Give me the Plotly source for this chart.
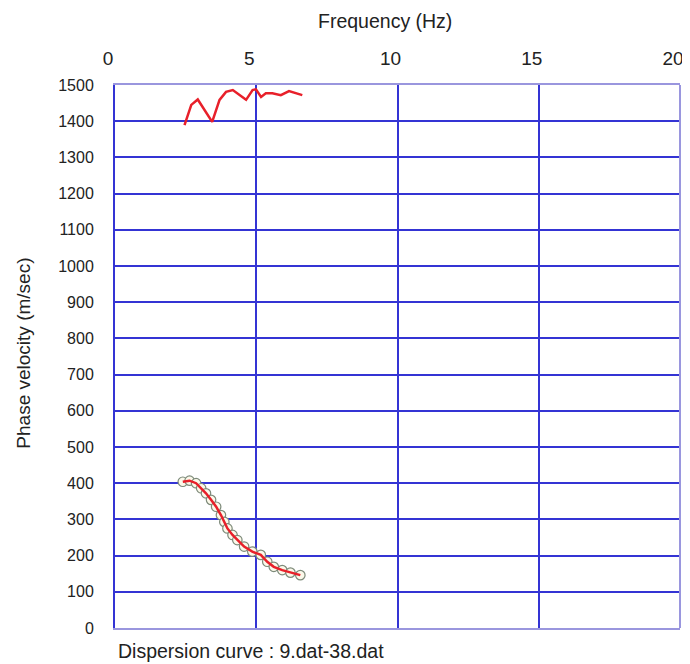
import plotly.graph_objects as go

# Upper (higher mode) red curve
upper_freq = [2.46, 2.70, 2.93, 3.44, 3.70, 3.93, 4.17, 4.64, 4.87, 4.99, 5.17, 5.34, 5.57, 5.87, 6.16, 6.40, 6.63]
upper_vel = [1389, 1445, 1460, 1398, 1459, 1481, 1486, 1459, 1486, 1488, 1467, 1477, 1477, 1472, 1483, 1477, 1472]

# Fundamental mode: observed points (circles) and fitted red line
low_freq = [2.40, 2.64, 2.87, 3.05, 3.22, 3.40, 3.58, 3.75, 3.87, 3.98, 4.16, 4.33, 4.57, 4.86, 5.16, 5.39, 5.62, 5.92, 6.21, 6.56]
low_vel = [404, 407, 400, 386, 372, 354, 335, 312, 293, 275, 257, 243, 225, 211, 202, 183, 169, 160, 153, 146]

x_ticks = [0, 5, 10, 15, 20]
y_ticks = list(range(0, 1501, 100))

FONT = "Liberation Sans, Arial, sans-serif"
NARROW = "Liberation Sans Narrow, Arial Narrow, Liberation Sans, sans-serif"
GRID = "#3434d4"
LIGHT = "#9a96de"

fig = go.Figure()
fig.add_trace(go.Scatter(
    x=low_freq, y=low_vel, mode="markers",
    marker=dict(symbol="circle", size=9.5, color="#fbf9ea",
                line=dict(color="#7d8a7a", width=1.2)),
    showlegend=False, hoverinfo="skip"))
fig.add_trace(go.Scatter(
    x=low_freq, y=low_vel, mode="lines",
    line=dict(color="#e8202a", width=2.5), showlegend=False))
fig.add_trace(go.Scatter(
    x=upper_freq, y=upper_vel, mode="lines",
    line=dict(color="#e8202a", width=2.5), showlegend=False))

# page body has an 8px margin, so the figure is sized/positioned to compensate
PW, PH = 569, 543
fig.update_layout(
    width=682, height=656,
    margin=dict(l=107, r=6, t=77, b=36),
    paper_bgcolor="white", plot_bgcolor="white",
    font=dict(family=FONT, color="#222222"),
    xaxis=dict(
        side="top", range=[0, 20], tickvals=x_ticks,
        ticktext=[str(v) for v in x_ticks],
        tickfont=dict(family=NARROW, size=19, color="#222"),
        ticks="", ticklabelstandoff=10, ticklabelshift=-7,
        showgrid=True, gridcolor=GRID, gridwidth=2,
        showline=True, linecolor=LIGHT, linewidth=2, mirror=True,
        zeroline=False,
    ),
    yaxis=dict(
        range=[0, 1500], tickvals=y_ticks,
        ticktext=[str(v) for v in y_ticks],
        tickfont=dict(family=FONT, size=16, color="#222"),
        ticks="", ticklabelstandoff=16,
        showgrid=True, gridcolor=GRID, gridwidth=2,
        showline=True, linecolor=GRID, linewidth=2,
        zeroline=False,
    ),
    shapes=[dict(type="line", xref="paper", yref="paper", x0=1, x1=1, y0=0, y1=1,
                 line=dict(color=LIGHT, width=2))],
    annotations=[
        dict(text="Frequency (Hz)", xref="paper", yref="paper",
             x=(387 - 115) / PW, y=1 + (85 - 21) / PH, xanchor="center", yanchor="middle",
             showarrow=False, font=dict(family=FONT, size=19.5, color="#222")),
        dict(text="Phase velocity (m/sec)", xref="paper", yref="paper",
             x=-(115 - 22) / PW, y=(628 - 353) / PH, xanchor="center", yanchor="middle",
             textangle=-90, showarrow=False, font=dict(family=FONT, size=19, color="#222")),
        dict(text="Dispersion curve : 9.dat-38.dat", xref="paper", yref="paper",
             x=(116 - 115) / PW, y=-(651 - 628) / PH, xanchor="left", yanchor="middle",
             showarrow=False, font=dict(family=FONT, size=19.5, color="#222")),
    ],
)

fig.write_html("out.html")
